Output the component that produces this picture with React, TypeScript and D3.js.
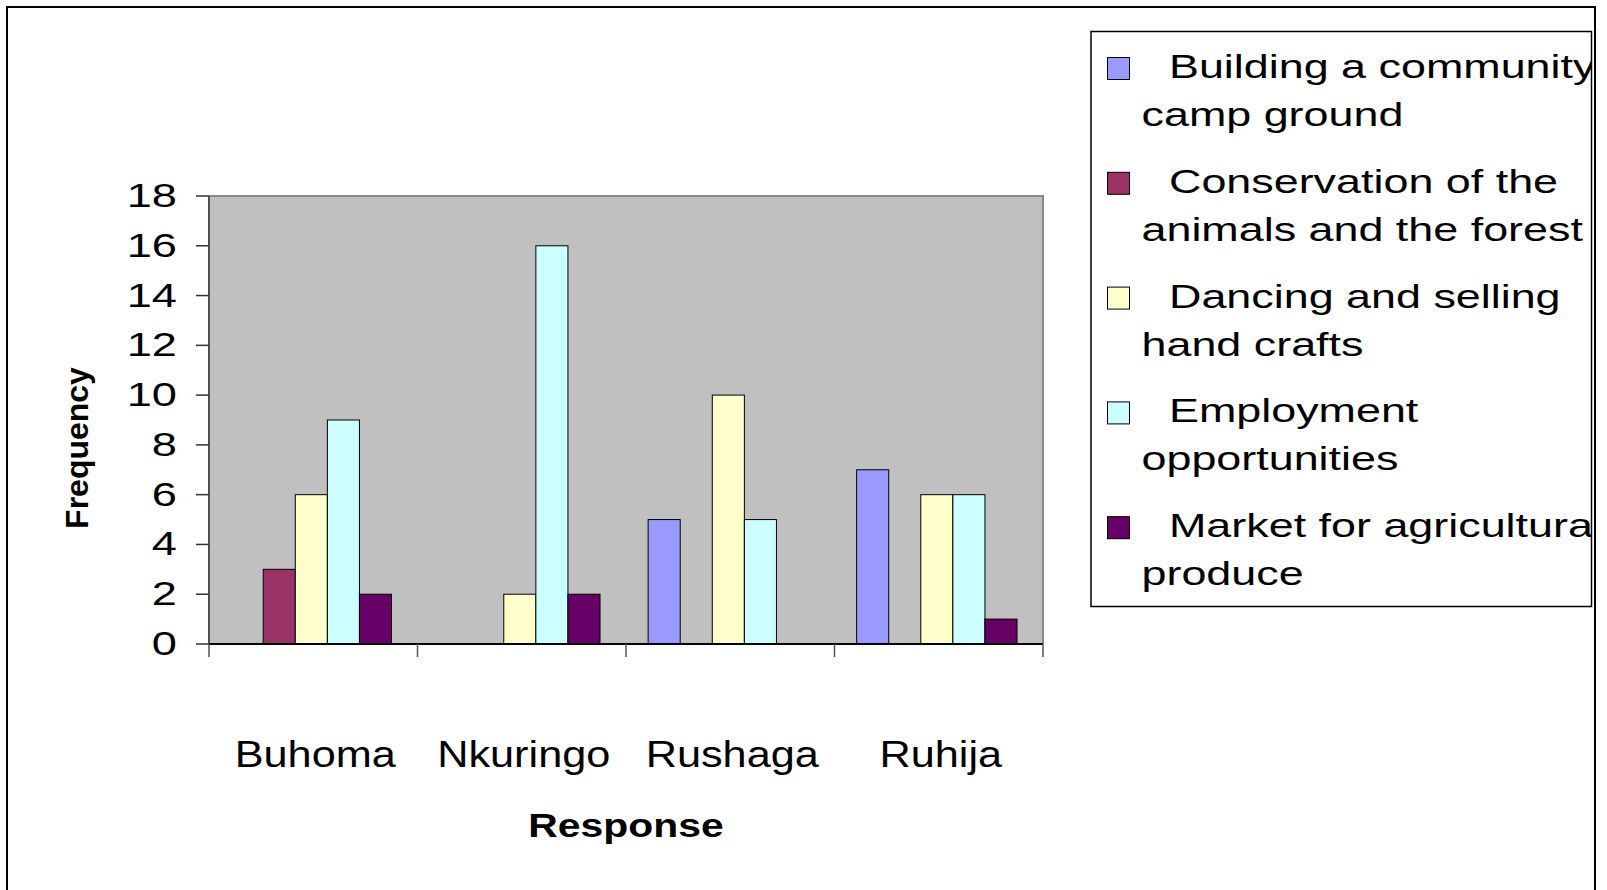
import * as React from "react";
import * as d3 from "d3";

// categories on the x axis
const locations = ["Buhoma", "Nkuringo", "Rushaga", "Ruhija"];

// one series per response, values per location
const seriesNames = [
    "Building a community camp ground",
    "Conservation of the animals and the forest",
    "Dancing and selling hand crafts",
    "Employment opportunities",
    "Market for agricultural produce"
];
const buildingCampGround = [0, 0, 5, 7];
const conservation = [3, 0, 0, 0];
const dancingCrafts = [6, 2, 10, 6];
const employment = [9, 16, 5, 6];
const marketProduce = [2, 2, 0, 1];

// how the legend breaks each name
const legendLines = [
    ["Building a community", "camp ground"],
    ["Conservation of the", "animals and the forest"],
    ["Dancing and selling", "hand crafts"],
    ["Employment", "opportunities"],
    ["Market for agricultural", "produce"]
];

const yTicks = [0, 2, 4, 6, 8, 10, 12, 14, 16, 18];
const colors = ["#9999FF", "#993366", "#FFFFCC", "#CCFFFF", "#660066"];

const FONT = "'Liberation Sans', Arial, sans-serif";

function App() {
    const ref = React.useRef(null);

    React.useEffect(() => {
        document.body.style.margin = "0";
        const svg = d3.select(ref.current);
        svg.selectAll("*").remove();

        const allSeries = [buildingCampGround, conservation, dancingCrafts, employment, marketProduce];

        const plot = { left: 209, right: 1043, top: 196, bottom: 644 };

        const x0 = d3.scaleBand().domain(locations).range([plot.left, plot.right]);
        const x1 = d3.scaleBand()
            .domain(seriesNames)
            .range([0, x0.bandwidth()])
            .paddingOuter(0.75)
            .align(0.46);
        const y = d3.scaleLinear().domain([0, 18]).range([plot.bottom, plot.top]);

        svg.append("rect").attr("width", 1607).attr("height", 890).attr("fill", "#fff");

        // chart border
        svg.append("rect")
            .attr("x", 7).attr("y", 7)
            .attr("width", 1588).attr("height", 1000)
            .attr("fill", "none").attr("stroke", "#000").attr("stroke-width", 2);

        // plot area
        svg.append("rect")
            .attr("x", plot.left).attr("y", plot.top)
            .attr("width", plot.right - plot.left).attr("height", plot.bottom - plot.top)
            .attr("fill", "#C0C0C0");
        svg.append("path")
            .attr("d", `M${plot.left},${plot.top}H${plot.right}V${plot.bottom}`)
            .attr("fill", "none").attr("stroke", "#8a8a8a").attr("stroke-width", 2);

        // bars
        allSeries.forEach((values, j) => {
            svg.append("g")
                .selectAll("rect")
                .data(values.map((v, i) => ({ loc: locations[i], v })).filter(d => d.v > 0))
                .enter()
                .append("rect")
                .attr("x", d => x0(d.loc) + x1(seriesNames[j]))
                .attr("y", d => y(d.v))
                .attr("width", x1.bandwidth())
                .attr("height", d => y(0) - y(d.v))
                .attr("fill", colors[j])
                .attr("stroke", "#000")
                .attr("stroke-width", 1);
        });

        // axes lines
        svg.append("line")
            .attr("x1", plot.left).attr("x2", plot.left)
            .attr("y1", plot.top).attr("y2", plot.bottom)
            .attr("stroke", "#505050").attr("stroke-width", 2);
        svg.append("line")
            .attr("x1", plot.left).attr("x2", plot.right)
            .attr("y1", plot.bottom).attr("y2", plot.bottom)
            .attr("stroke", "#000").attr("stroke-width", 2);

        // y ticks + labels
        const yAxis = svg.append("g");
        yAxis.selectAll("line")
            .data(yTicks)
            .enter()
            .append("line")
            .attr("x1", plot.left - 13).attr("x2", plot.left)
            .attr("y1", d => y(d)).attr("y2", d => y(d))
            .attr("stroke", "#333").attr("stroke-width", 1.5);
        yAxis.selectAll("text")
            .data(yTicks)
            .enter()
            .append("text")
            .attr("transform", d => `translate(177,${y(d) + 11}) scale(1.33,1)`)
            .attr("text-anchor", "end")
            .style("font-family", FONT)
            .style("font-size", "34px")
            .text(d => d);

        // category ticks
        const boundaries = locations.map(l => x0(l)).concat([plot.right]);
        svg.append("g")
            .selectAll("line")
            .data(boundaries)
            .enter()
            .append("line")
            .attr("x1", d => d).attr("x2", d => d)
            .attr("y1", plot.bottom).attr("y2", plot.bottom + 13)
            .attr("stroke", "#555").attr("stroke-width", 1.5);

        // category labels
        svg.append("g")
            .selectAll("text")
            .data(locations)
            .enter()
            .append("text")
            .attr("transform", d => `translate(${x0(d) + x0.bandwidth() / 2 + 2},767) scale(1.17,1)`)
            .attr("text-anchor", "middle")
            .style("font-family", FONT)
            .style("font-size", "37px")
            .text(d => d);

        // axis titles
        svg.append("text")
            .attr("transform", `translate(${(plot.left + plot.right) / 2},837) scale(1.22,1)`)
            .attr("text-anchor", "middle")
            .style("font-family", FONT)
            .style("font-size", "33.5px")
            .style("font-weight", "bold")
            .text("Response");

        svg.append("text")
            .attr("transform", "translate(88,448) rotate(-90)")
            .attr("text-anchor", "middle")
            .style("font-family", FONT)
            .style("font-size", "32px")
            .style("font-weight", "bold")
            .text("Frequency");

        // legend
        const box = { x: 1091, y: 31.5, w: 500.5, h: 575 };
        svg.append("clipPath").attr("id", "legendClip")
            .append("rect")
            .attr("x", box.x).attr("y", box.y).attr("width", box.w).attr("height", box.h);
        svg.append("rect")
            .attr("x", box.x).attr("y", box.y).attr("width", box.w).attr("height", box.h)
            .attr("fill", "#fff").attr("stroke", "#000").attr("stroke-width", 1.5);

        const step = 114.8;
        const legend = svg.append("g").attr("clip-path", "url(#legendClip)");
        const items = legend.selectAll("g")
            .data(seriesNames)
            .enter()
            .append("g")
            .attr("transform", (d, i) => `translate(0,${i * step})`);
        items.append("rect")
            .attr("x", 1107.5).attr("y", 57.5)
            .attr("width", 22).attr("height", 22)
            .attr("fill", (d, i) => colors[i])
            .attr("stroke", "#000").attr("stroke-width", 1);
        items.append("text")
            .attr("transform", "translate(1169,78) scale(1.36,1)")
            .style("font-family", FONT)
            .style("font-size", "33px")
            .text((d, i) => legendLines[i][0]);
        items.append("text")
            .attr("transform", "translate(1141.5,126) scale(1.36,1)")
            .style("font-family", FONT)
            .style("font-size", "33px")
            .text((d, i) => legendLines[i][1]);
    }, []);

    return <svg ref={ref} width={1607} height={890} style={{ display: "block" }} />;
}

export default App;
